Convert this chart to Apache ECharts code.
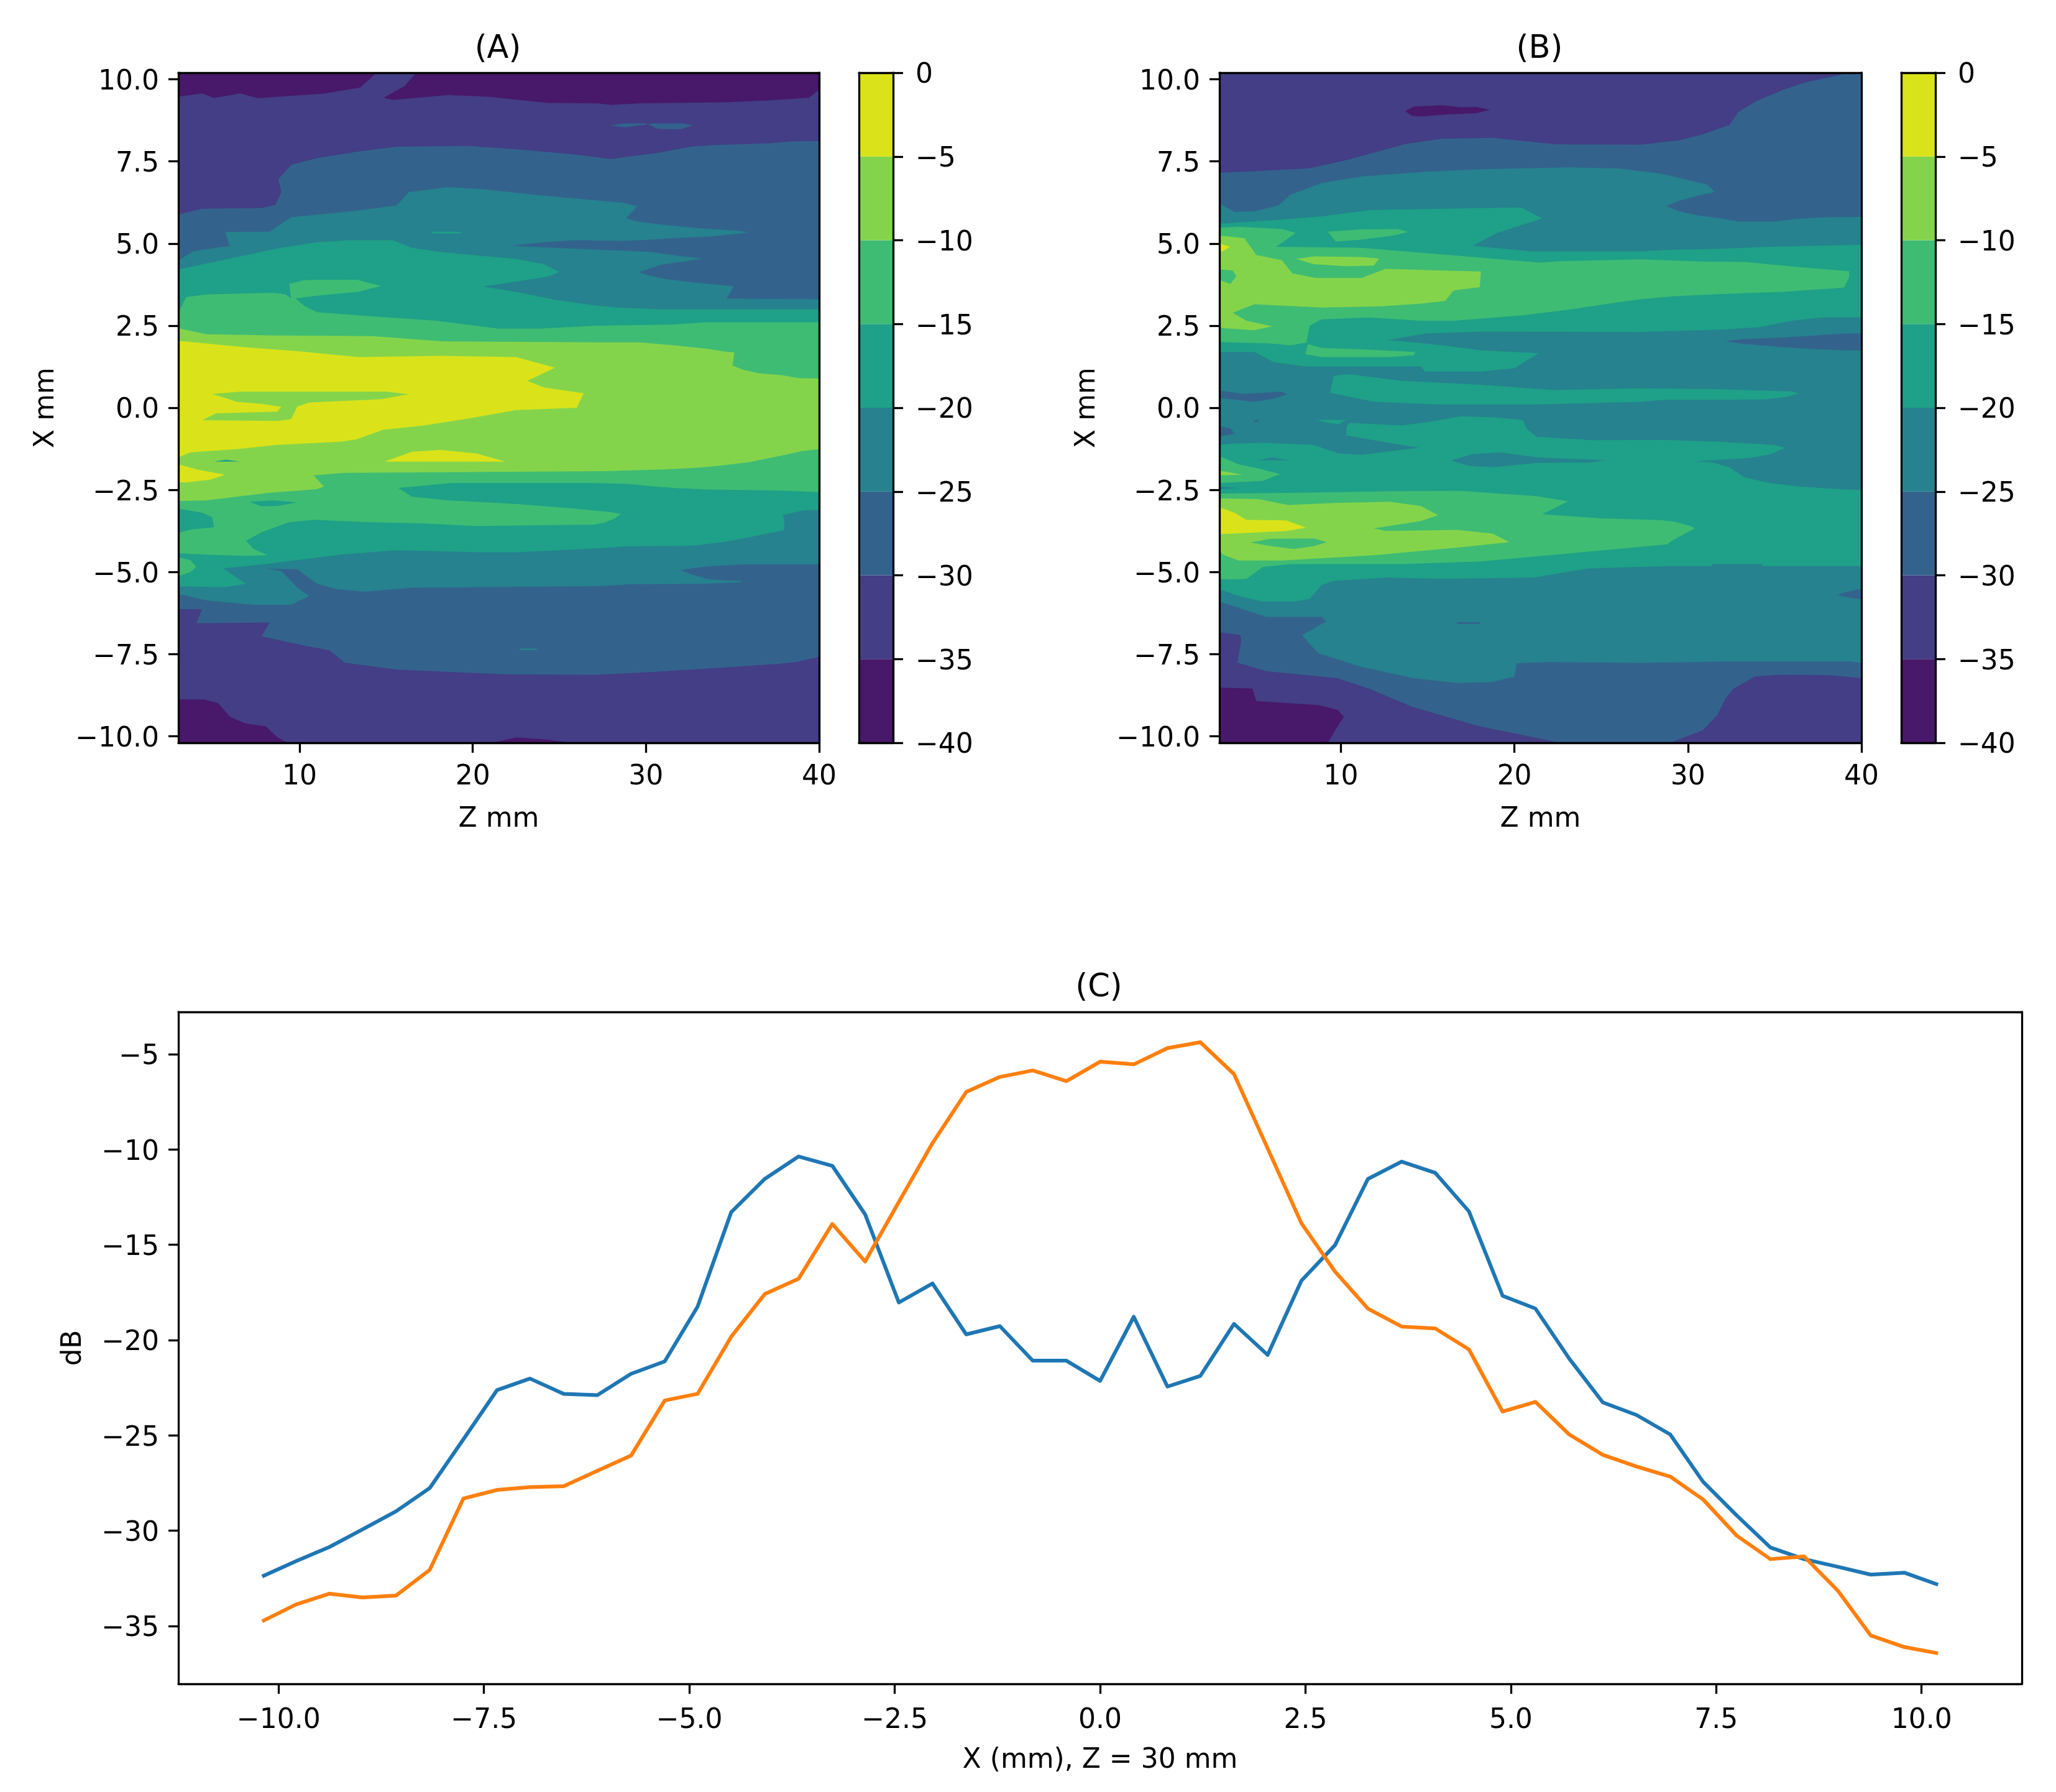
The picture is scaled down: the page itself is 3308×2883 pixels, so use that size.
<!DOCTYPE html>
<html><head><meta charset="utf-8">
<style>html,body{margin:0;padding:0;background:#fff}#c{width:3308px;height:2883px}</style>
<script src="https://cdn.jsdelivr.net/npm/echarts@6/dist/echarts.min.js"></script>
</head><body><div id="c"></div>
<script>
// ---------- levels ----------
const levels = [-40,-35,-30,-25,-20,-15,-10,-5,0];
const levelColors = ['#48186a','#433e85','#33638d','#26828e','#1fa088','#3fbc73','#84d44b','#dae319'];
const zTicks = [10,20,30,40];
const xTicks = [-10,-7.5,-5,-2.5,0,2.5,5,7.5,10];
const dbTicks = [-35,-30,-25,-20,-15,-10,-5];

// ---------- panel (C) line values ----------
const profileX = [-10.2,-9.79,-9.38,-8.98,-8.57,-8.16,-7.75,-7.34,-6.94,-6.53,-6.12,-5.71,-5.3,-4.9,-4.49,-4.08,-3.67,-3.26,-2.86,-2.45,-2.04,-1.63,-1.22,-0.82,-0.41,0,0.41,0.82,1.22,1.63,2.04,2.45,2.86,3.26,3.67,4.08,4.49,4.9,5.3,5.71,6.12,6.53,6.94,7.34,7.75,8.16,8.57,8.98,9.38,9.79,10.2];
const profileBlue = [-32.4,-31.6,-30.85,-29.93,-28.98,-27.76,-25.2,-22.62,-22.02,-22.82,-22.89,-21.77,-21.12,-18.25,-13.29,-11.54,-10.37,-10.86,-13.41,-18.03,-17.03,-19.7,-19.27,-21.08,-21.08,-22.14,-18.78,-22.44,-21.88,-19.15,-20.78,-16.89,-15.02,-11.55,-10.64,-11.23,-13.25,-17.68,-18.35,-20.97,-23.27,-23.93,-24.95,-27.43,-29.2,-30.88,-31.49,-31.89,-32.3,-32.2,-32.83];
const profileOrange = [-34.75,-33.87,-33.3,-33.5,-33.4,-32.05,-28.31,-27.86,-27.71,-27.66,-26.86,-26.06,-23.17,-22.82,-19.82,-17.58,-16.78,-13.91,-15.88,-12.76,-9.67,-6.99,-6.2,-5.86,-6.42,-5.4,-5.54,-4.69,-4.38,-6.05,-9.95,-13.87,-16.41,-18.35,-19.29,-19.39,-20.49,-23.75,-23.24,-24.95,-26.02,-26.63,-27.16,-28.36,-30.26,-31.49,-31.35,-33.14,-35.49,-36.1,-36.43];

// ---------- contour outlines, in (Z mm, X mm) ----------
const fullArea = [[3,-10.2],[40,-10.2],[40,10.2],[3,10.2]];

// Panel A
const A_L1_topLeft = [[3,10.2],[3,9.47],[4.37,9.57],[5.06,9.43],[6.55,9.57],[7.58,9.43],[11.36,9.56],[13.5,9.75],[14.45,10.2]];
const A_L1_topRight = [[16.74,10.2],[16.05,9.79],[14.86,9.44],[15.37,9.37],[18.57,9.52],[20.86,9.47],[24.3,9.28],[27.17,9.27],[28,9.22],[29.6,9.27],[34.7,9.3],[37.1,9.36],[39.4,9.44],[40,9.68],[40,10.2]];
const A_L1_botLeft = [[3,-8.88],[4.49,-8.88],[5.29,-8.99],[5.98,-9.41],[6.89,-9.62],[8.04,-9.7],[8.72,-10.04],[9.3,-10.2],[3,-10.2]];
const A_L1_botMid = [[21.1,-10.2],[22.5,-10.04],[24.3,-10.1],[25.67,-10.2]];
const A_L3_upper = [[3,5.88],[4.37,6.06],[7.8,6.08],[8.6,6.18],[8.95,6.56],[8.77,6.96],[9.53,7.4],[11,7.6],[13.3,7.79],[15.6,7.95],[19.7,7.97],[22.5,7.87],[25.9,7.71],[28,7.57],[29,7.65],[30.6,7.75],[32.6,7.95],[34,8.0],[37.2,8.05],[38.4,8.11],[40,8.12]];
const A_L3_lower = [[3,-6.13],[4.37,-6.13],[4.03,-6.56],[8.27,-6.54],[7.81,-6.96],[10.33,-7.25],[11.7,-7.38],[12.6,-7.76],[15.6,-7.97],[22,-8.12],[27.17,-8.13],[29,-8.08],[30.9,-8.03],[32.6,-7.97],[35,-7.89],[37.7,-7.79],[38.7,-7.74],[40,-7.58]];
const A_L3_isle = [[27.9,8.59],[28.7,8.66],[30,8.66],[30.7,8.49],[32,8.48],[32.7,8.59],[32.2,8.66],[30.4,8.66],[30,8.62],[28.8,8.54]];
const A_L4_upper = [[3,4.49],[3.9,4.77],[5.98,4.93],[5.7,5.35],[8.27,5.36],[9.5,5.8],[13.3,6.0],[15.6,6.16],[16.3,6.56],[18.6,6.72],[20.6,6.65],[23.6,6.48],[27.17,6.31],[28.7,6.24],[29.5,6.13],[28.85,5.77],[29.5,5.67],[31,5.57],[33,5.47],[35.3,5.39],[35.9,5.34],[35.3,5.3],[33.75,5.22],[32.2,5.18],[30,5.11],[28.6,5.08],[25.9,5.1],[24,5.04],[22.2,4.93],[27.17,4.81],[29,4.78],[30.3,4.74],[32.1,4.61],[33.2,4.54],[32.2,4.45],[30.9,4.36],[29.6,4.13],[30.2,4.02],[31.25,3.91],[32.7,3.82],[35.07,3.7],[34.65,3.32],[40,3.3]];
const A_L4_lower = [[3,-5.67],[4.6,-5.86],[7.35,-6.0],[9.5,-6.0],[10.56,-5.73],[9.87,-5.48],[8.95,-4.97],[8.04,-4.89],[9.9,-4.92],[11,-5.36],[12.15,-5.52],[13.76,-5.6],[16.5,-5.48],[27.17,-5.43],[29.3,-5.37],[33.3,-5.36],[35.5,-5.31],[35.5,-5.27],[34.6,-5.26],[33.6,-5.22],[32.7,-5.09],[32,-4.94],[33.5,-4.83],[35.5,-4.77],[40,-4.77]];
const A_L4_speck = [[22.7,-7.33],[23.7,-7.33],[23.7,-7.38],[22.7,-7.38]];
const A_L5_upper = [[3,4.21],[5.5,4.49],[8.7,4.85],[11,5.04],[12.85,5.1],[15.4,5.1],[16.5,4.87],[18.3,4.73],[22.5,4.53],[24.1,4.37],[25,4.13],[24.3,3.99],[20.6,3.69],[22.5,3.53],[24.75,3.29],[27.17,3.11],[28.4,3.05],[30.6,3.0],[40,3.0]];
const A_L5_lower = [[3,-5.44],[5.75,-5.46],[6.9,-5.36],[5.6,-4.89],[8.04,-4.76],[12.4,-4.47],[15.6,-4.34],[20.4,-4.4],[22.5,-4.4],[27.17,-4.28],[28.85,-4.22],[32.7,-4.2],[34.6,-4.08],[36,-3.94],[37.2,-3.81],[37.95,-3.73],[38,-3.47],[37.9,-3.27],[39,-3.13],[40,-3.11]];
const A_L5_speck = [[17.65,5.36],[19.3,5.36],[19.3,5.31],[17.65,5.31]];
const A_L6_upper = [[3,2.9],[3.45,3.37],[4.6,3.45],[8.5,3.5],[9.2,3.45],[9.5,3.33],[9.4,3.77],[10.3,3.89],[13.3,3.9],[14.7,3.71],[13.4,3.53],[11,3.41],[9.75,3.33],[10.3,3.09],[11,2.91],[14.45,2.77],[17.9,2.65],[21.5,2.41],[23.8,2.41],[27.17,2.5],[31.5,2.53],[33.4,2.6],[40,2.6]];
const A_L6_lower = [[3,-4.43],[4.6,-4.47],[6.9,-4.51],[8.15,-4.49],[7.35,-4.3],[6.9,-4.05],[7.8,-3.79],[9.4,-3.48],[10.8,-3.41],[14,-3.48],[17,-3.52],[20.2,-3.6],[27,-3.56],[27.6,-3.5],[28.2,-3.37],[28.55,-3.23],[28,-3.18],[25.9,-3.07],[22.5,-2.93],[18.6,-2.82],[16.5,-2.71],[15.7,-2.44],[18.8,-2.29],[26.8,-2.29],[29,-2.32],[30.5,-2.4],[31.9,-2.45],[33.55,-2.49],[37.9,-2.52],[40,-2.57]];
const A_L6_edge = [[3,-4.55],[3.7,-4.64],[4.03,-4.85],[3.7,-5.0],[3,-5.13]];
const A_L5_edge = [[3,-3.07],[4.4,-3.2],[4.95,-3.33],[5.06,-3.64],[3.7,-3.71],[3,-3.81]];
const A_L5_pool = [[7.1,-2.86],[8.5,-2.82],[9.87,-2.88],[8.7,-2.99],[7.8,-3.0]];
const A_L7_upper = [[3,2.42],[4.6,2.24],[8.7,2.2],[14.2,2.18],[18.3,2.02],[27.17,1.99],[29.6,1.99],[31.6,1.9],[33.5,1.8],[34.7,1.7],[35.1,1.69],[35,1.28],[35.6,1.16],[36.5,1.05],[37.9,0.99],[38.85,0.9],[40,0.89]];
const A_L7_lower = [[3,-2.84],[4.6,-2.82],[8.27,-2.59],[11,-2.48],[11.4,-2.4],[10.8,-2.06],[12.6,-1.98],[27.6,-1.93],[31,-1.88],[32.8,-1.83],[34,-1.78],[35.9,-1.66],[37.7,-1.47],[39,-1.32],[40,-1.26]];
const A_L5_speck2 = [[5.06,-1.64],[5.75,-1.58],[6.55,-1.64]];
const A_L8_main = [[3,2.04],[6.9,1.84],[9.9,1.72],[13.4,1.54],[18.2,1.58],[22.5,1.54],[24.75,1.22],[23.15,0.82],[24.1,0.62],[26.4,0.44],[26,0.0],[22.5,-0.07],[19.7,-0.33],[17.2,-0.54],[14.8,-0.67],[13.3,-0.96],[12.4,-1.03],[8.7,-1.13],[6.4,-1.26],[3.7,-1.36],[3,-1.51]];
const A_L7_inner = [[4.95,0.42],[6.66,0.49],[15,0.49],[16.3,0.41],[14.7,0.26],[10.56,0.16],[9.87,0.04],[9.5,-0.35],[8.7,-0.4],[4.37,-0.38],[5.18,-0.17],[8.7,-0.12],[8.95,0.03],[7.8,0.12],[6.4,0.18]];
const A_L8_lens = [[14.9,-1.64],[16.5,-1.34],[18.1,-1.28],[20.2,-1.39],[21.9,-1.64]];
const A_L8_edge = [[3,-1.72],[4.15,-1.89],[5.7,-2.04],[4.83,-2.19],[3.46,-2.27],[3,-2.27]];

// Panel B
const B_L1_isle = [[13.7,9.03],[14.2,9.17],[15.8,9.21],[16.9,9.15],[17.8,9.16],[18.6,9.07],[17.8,8.97],[16.2,8.93],[14.6,8.87],[14.1,8.89]];
const B_L1_corner = [[3,-8.52],[4.9,-8.55],[5.13,-8.93],[8.68,-9.05],[9.82,-9.2],[10.17,-9.41],[9.7,-9.79],[9.25,-10.2],[3,-10.2]];
const B_L3_upper = [[3,7.16],[4.33,7.18],[8.2,7.29],[10.27,7.53],[12.34,7.83],[13.7,8.03],[15.8,8.19],[18.75,8.22],[22.4,8.02],[27.25,8.01],[29.5,8.14],[30.85,8.32],[32.4,8.61],[32.9,9.0],[33.95,9.34],[35.5,9.68],[36.8,9.91],[38.6,10.11],[39.2,10.2],[40,10.2]];
const B_L3_lower = [[3,-6.83],[4.2,-6.92],[4.26,-7.09],[4.03,-7.76],[5.7,-8.02],[9.8,-8.23],[11.66,-8.56],[14.15,-9.11],[18,-9.7],[22.65,-10.2],[29,-10.2],[30,-9.99],[30.85,-9.82],[31.7,-9.35],[32.15,-8.87],[32.6,-8.57],[33.85,-8.18],[35.4,-8.13],[38.15,-8.14],[40,-8.23]];
const B_L4_upper = [[3,6.22],[3.87,5.96],[5,5.98],[6.4,6.16],[7.08,6.48],[8.9,6.84],[11.2,7.04],[14.86,7.18],[18.07,7.26],[23.3,7.32],[26.1,7.28],[27.25,7.2],[28.3,7.14],[29.25,7.03],[30.4,6.88],[31.1,6.8],[31.55,6.57],[30.7,6.47],[29.5,6.3],[28.75,6.14],[29.5,5.98],[30.4,5.87],[31.9,5.76],[32.95,5.67],[35,5.67],[36.05,5.74],[37.9,5.8],[40,5.81]];
const B_L4_lower = [[3,-5.9],[5.7,-6.37],[8.9,-6.37],[9.14,-6.51],[7.76,-6.92],[8.68,-7.47],[11.2,-7.89],[14.17,-8.23],[16.7,-8.38],[18.75,-8.35],[20,-8.18],[20.13,-7.78],[21.96,-7.74],[27.25,-7.77],[32.34,-7.72],[39.3,-7.72],[40,-7.77]];
const B_L3_sliverLow = [[16.7,-6.53],[18,-6.53],[18,-6.58],[16.7,-6.58]];
const B_L3_edgeRight = [[38.6,-5.7],[39,-5.63],[39.75,-5.53],[40,-5.53],[40,-5.83],[39.2,-5.77]];
const B_L5_upper = [[3,5.6],[6.4,5.72],[8.9,5.83],[11.66,6.02],[16,6.06],[20.4,6.1],[21.6,5.76],[19,5.32],[17.6,4.93],[21,4.76],[27.25,4.76],[28.6,4.8],[31.9,4.84],[34.7,4.9],[38.8,4.95],[40,4.96]];
const B_L5_lower = [[3,-5.52],[4.1,-5.73],[5.47,-5.9],[7.3,-5.9],[8.2,-5.82],[8.9,-5.4],[9.6,-5.27],[12.6,-5.17],[15.8,-5.21],[21.1,-5.17],[24.25,-4.89],[28.8,-4.82],[31.4,-4.82],[31.4,-4.76],[34.3,-4.76],[34.3,-4.82],[40,-4.82]];
const B_L4_band = [[12.7,2.06],[14.9,2.26],[18.07,2.32],[27.25,2.31],[29.4,2.34],[32,2.38],[34.1,2.45],[36,2.65],[37.7,2.75],[40,2.75],[40,-2.51],[37.9,-2.45],[36.4,-2.4],[34.7,-2.29],[33.25,-2.12],[32.4,-1.81],[31.4,-1.66],[30.4,-1.63],[32,-1.58],[33.6,-1.53],[34.8,-1.41],[35.6,-1.22],[35,-1.14],[34.1,-1.1],[32,-1.04],[28.8,-0.98],[24.5,-0.99],[21.27,-0.88],[20.7,-0.63],[20.47,-0.37],[18.75,-0.29],[16.9,-0.26],[15.1,-0.43],[13.5,-0.54],[10.5,-0.46],[10.33,-0.58],[10.3,-0.84],[11.9,-0.99],[14.5,-1.22],[11.2,-1.43],[9.8,-1.38],[8.45,-1.13],[5.47,-1.07],[3.87,-1.09],[3,-1.13],[3,1.7],[5,1.7],[6.16,1.38],[7.99,1.26],[14.6,1.26],[14.86,1.1],[18.07,1.1],[20,1.2],[21.4,1.66],[18.07,1.75],[15.8,1.9],[14.4,1.98]];
const B_L3_sliverRight = [[32.15,2.03],[33.2,2.09],[35.5,2.14],[37.3,2.2],[39.1,2.26],[40,2.26],[40,1.74],[38.9,1.75],[36.95,1.8],[35.4,1.85],[34.2,1.9],[33.1,1.95]];
const B_L3_edgeA = [[3,0.53],[4.33,0.42],[6.6,0.49],[6.9,0.41],[6.16,0.28],[5,0.18],[3,0.3]];
const B_L3_edgeB = [[3,-0.56],[3.64,-0.63],[3.87,-0.79],[3,-0.88]];
const B_L3_dot = [[5,-0.37],[5.25,-0.37],[5.25,-0.43],[5,-0.43]];
const B_L5_strip = [[9.6,0.98],[10.5,1.02],[13.5,0.82],[18.07,0.7],[22.2,0.54],[27.25,0.59],[31.55,0.57],[34.55,0.52],[36,0.49],[36.4,0.43],[35.6,0.32],[34.4,0.25],[28.6,0.24],[27.25,0.18],[21.27,0.1],[15.8,0.1],[11.9,0.18],[9.37,0.46]];
const B_L5_speck = [[8.56,-0.37],[10.3,-0.37],[9.9,-0.5],[9.25,-0.46]];
const B_L4_lakeA = [[16.35,-1.61],[17.6,-1.41],[19.2,-1.36],[21.27,-1.51],[25.2,-1.6],[24.5,-1.66],[21.27,-1.68],[18.75,-1.81],[17.4,-1.77]];
const B_L4_lakeB = [[5.25,-1.6],[6.05,-1.51],[7,-1.6]];
const B_L4_lakeC = [[3,-2.41],[4.1,-2.44],[3,-2.48]];
const B_L6_upper = [[3,5.48],[4.1,5.51],[6.6,5.44],[7.4,5.32],[6.27,4.9],[11.2,4.87],[16.24,4.65],[21.5,4.42],[22.65,4.46],[27.25,4.52],[30.7,4.45],[33.3,4.44],[34.8,4.36],[36,4.3],[37.8,4.22],[39.3,4.16],[39.28,3.96],[39,3.66]];
const B_L6_under = [[3,2.0],[5.9,1.96],[7.08,1.9],[8,1.98],[8.2,2.5],[8.9,2.69],[11.66,2.75],[14.6,2.65],[16.5,2.65],[20.4,2.81],[22.9,2.97],[26,3.21],[27.25,3.3],[29.1,3.39],[31,3.44],[33.3,3.49],[35.5,3.53],[37.1,3.59],[38.25,3.63],[39,3.66]];
const B_L6_isleTop = [[9.25,5.36],[11.2,5.43],[13.26,5.44],[13.9,5.35],[13,5.24],[11.2,5.12],[9.7,5.06]];
const B_L6_isleMid = [[8.1,1.94],[8.9,1.82],[11.2,1.78],[14.3,1.7],[14.2,1.6],[12.8,1.54],[8.9,1.54],[7.95,1.63]];
const B_L6_edge = [[3,-1.47],[4.1,-1.72],[5.25,-1.85],[6.5,-2.02],[5.47,-2.23],[3,-2.29]];
const B_L6_lowTop = [[3,-2.61],[7.76,-2.59],[13,-2.54],[16.9,-2.53],[21.3,-2.69],[23.1,-2.85],[21.6,-3.24],[25,-3.37],[28.45,-3.42],[29.2,-3.47],[30.1,-3.59],[30.4,-3.67]];
const B_L6_lowBottom = [[3,-5.21],[3.64,-5.23],[4.56,-5.21],[5.5,-4.85],[7.08,-4.76],[13.5,-4.76],[18.07,-4.68],[23.3,-4.43],[28.8,-4.16],[29,-4.08],[29.45,-3.94],[30.4,-3.67]];
const B_L7_main = [[3,5.24],[4.44,5.16],[5.13,4.65],[6.6,4.49],[7.2,4.09],[8.56,3.95],[11.2,3.95],[12.57,4.23],[15.55,4.18],[18.07,4.15],[18,3.67],[16.5,3.57],[16,3.25],[14.6,3.17],[12.34,3.09],[8.9,3.05],[5,3.15],[3.76,2.89],[4.56,2.65],[6.05,2.48],[5,2.36],[3,2.43]];
const B_L6_lake = [[3,4.21],[3.76,4.18],[3.98,4.01],[3.64,3.77],[3,3.89]];
const B_L7_isle = [[7.42,4.53],[8.45,4.61],[11.2,4.59],[12.2,4.54],[11.9,4.33],[10.3,4.31],[8.45,4.37]];
const B_L8_tip = [[3,5.0],[3.6,4.9],[3.2,4.77],[3,4.75]];
const B_L7_edge = [[3,-1.91],[4.33,-2.04],[3,-2.06]];
const B_L7_low = [[3,-2.76],[5.25,-2.78],[6.96,-2.96],[9.6,-2.9],[12.8,-2.86],[14.6,-2.99],[15.6,-3.27],[14.6,-3.45],[11.9,-3.67],[12.6,-3.75],[16.7,-3.72],[18.75,-3.83],[19.7,-4.09],[16.7,-4.26],[11.9,-4.49],[6.6,-4.65],[4.1,-4.65],[3.2,-4.47],[3,-4.34]];
const B_L8_low = [[3,-3.03],[3.87,-3.2],[4.53,-3.41],[6.85,-3.43],[8,-3.65],[6.85,-3.75],[3,-3.85]];
const B_L6_isleLow = [[4.8,-4.1],[5.93,-3.99],[8.45,-3.98],[9.2,-4.09],[8.45,-4.21],[7.3,-4.3],[5.93,-4.21]];

// ---------- build ----------
const ring = (upper, lower) => upper.concat(lower.slice().reverse());
const panelA = [
  [1, fullArea], [0, A_L1_topLeft], [0, A_L1_topRight], [0, A_L1_botLeft], [0, A_L1_botMid],
  [2, ring(A_L3_upper, A_L3_lower)], [2, A_L3_isle],
  [3, ring(A_L4_upper, A_L4_lower)], [3, A_L4_speck],
  [4, ring(A_L5_upper, A_L5_lower)], [4, A_L5_speck],
  [5, ring(A_L6_upper, A_L6_lower)], [5, A_L6_edge], [4, A_L5_edge], [4, A_L5_pool],
  [6, ring(A_L7_upper, A_L7_lower)], [4, A_L5_speck2],
  [7, A_L8_main], [6, A_L7_inner], [7, A_L8_lens], [7, A_L8_edge]
];
const panelB = [
  [1, fullArea], [0, B_L1_isle], [0, B_L1_corner],
  [2, ring(B_L3_upper, B_L3_lower)],
  [3, ring(B_L4_upper, B_L4_lower)], [2, B_L3_sliverLow], [2, B_L3_edgeRight],
  [4, ring(B_L5_upper, B_L5_lower)],
  [3, B_L4_band], [2, B_L3_sliverRight], [2, B_L3_edgeA], [2, B_L3_edgeB], [2, B_L3_dot],
  [4, B_L5_strip], [4, B_L5_speck], [3, B_L4_lakeA], [3, B_L4_lakeB], [3, B_L4_lakeC],
  [5, ring(B_L6_upper, B_L6_under)], [5, B_L6_isleTop], [5, B_L6_isleMid], [5, B_L6_edge],
  [5, ring(B_L6_lowTop, B_L6_lowBottom)],
  [6, B_L7_main], [5, B_L6_lake], [6, B_L7_isle], [7, B_L8_tip], [6, B_L7_edge],
  [6, B_L7_low], [7, B_L8_low], [5, B_L6_isleLow]
];

const INK = '#000', LW = 3.3, TICK = 16, FS = 44;
const minus = s => String(s).replace('-', '\u2212');
const font = {color: INK, fontFamily: '"DejaVu Sans"', fontSize: FS};
const yLabel = {...font, verticalAlign:'top', lineHeight:10};
const line = {show: true, onZero: false, lineStyle: {color: INK, width: LW}};
const tick = vals => ({show: true, length: TICK, lineStyle: {color: INK, width: LW}, customValues: vals});

const frameX = (g, min, max) => ({type:'value', gridIndex:g, position:'top', min, max, z:10, axisLine:line, axisTick:{show:false}, axisLabel:{show:false}, splitLine:{show:false}});
const frameY = (g, min, max, pos) => ({type:'value', gridIndex:g, position:pos, min, max, z:10, axisLine:line, axisTick:{show:false}, axisLabel:{show:false}, splitLine:{show:false}});

const grids = [
  {left:287,  top:117,  width:1031, height:1078},
  {left:1382, top:117,  width:55,   height:1078},
  {left:1962, top:117,  width:1033, height:1078},
  {left:3059, top:117,  width:55,   height:1078},
  {left:287,  top:1628, width:2966, height:1081}
];
const xAxes = [], yAxes = [], series = [];

function addContour(g, polys) {
  const xi = xAxes.length, yi = yAxes.length;
  xAxes.push({type:'value', gridIndex:g, position:'bottom', min:3, max:40, z:10,
    name:'Z mm', nameLocation:'middle', nameGap:102, nameTextStyle:font,
    axisLine:line, axisTick:tick(zTicks), axisLabel:{...font, margin:34, customValues:zTicks}, splitLine:{show:false}});
  xAxes.push(frameX(g, 3, 40));
  yAxes.push({type:'value', gridIndex:g, position:'left', min:-10.2, max:10.2, z:10,
    name:'X mm', nameLocation:'middle', nameGap:190, nameTextStyle:font,
    axisLine:line, axisTick:tick(xTicks),
    axisLabel:{...yLabel, margin:31, customValues:xTicks, formatter:v => minus(v.toFixed(1))}, splitLine:{show:false}});
  yAxes.push(frameY(g, -10.2, 10.2, 'right'));
  series.push({type:'custom', xAxisIndex:xi, yAxisIndex:yi, silent:true, animation:false, z:2, clip:true,
    data: polys.map((p,i) => [i, 0]),
    encode:{x:1,y:1},
    renderItem:(params, api) => {
      const [lv, pts] = polys[params.dataIndex];
      return {type:'polygon', shape:{points: pts.map(p => api.coord(p))}, style:{fill: levelColors[lv]}};
    }});
}
function addColorbar(g) {
  const xi = xAxes.length, yi = yAxes.length;
  xAxes.push({type:'value', gridIndex:g, position:'bottom', min:0, max:1, z:10, axisLine:line, axisTick:{show:false}, axisLabel:{show:false}, splitLine:{show:false}});
  xAxes.push(frameX(g, 0, 1));
  yAxes.push({type:'value', gridIndex:g, position:'right', min:-40, max:0, interval:5, z:10,
    axisLine:line, axisTick:{show:true, length:TICK, lineStyle:{color:INK, width:LW}},
    axisLabel:{...yLabel, margin:36, formatter:v => minus(v)}, splitLine:{show:false}});
  yAxes.push(frameY(g, -40, 0, 'left'));
  series.push({type:'custom', xAxisIndex:xi, yAxisIndex:yi, silent:true, animation:false, z:2,
    data: levelColors.map((c,i) => [0.5, levels[i]]),
    renderItem:(params, api) => {
      const i = params.dataIndex;
      const a = api.coord([0, levels[i]]), b = api.coord([1, levels[i+1]]);
      return {type:'rect', shape:{x:a[0], y:b[1], width:b[0]-a[0], height:a[1]-b[1]}, style:{fill: levelColors[i]}};
    }});
}
addContour(0, panelA);
addColorbar(1);
addContour(2, panelB);
addColorbar(3);

const cx = xAxes.length, cy = yAxes.length;
xAxes.push({type:'value', gridIndex:4, position:'bottom', min:-11.22, max:11.22, z:10,
  name:'X (mm), Z = 30 mm', nameLocation:'middle', nameGap:102, nameTextStyle:font,
  axisLine:line, axisTick:tick(xTicks),
  axisLabel:{...font, margin:38, customValues:xTicks, formatter:v => minus(v.toFixed(1))}, splitLine:{show:false}});
xAxes.push(frameX(4, -11.22, 11.22));
yAxes.push({type:'value', gridIndex:4, position:'left', min:-38.03, max:-2.79, z:10,
  name:'dB', nameLocation:'middle', nameGap:146, nameTextStyle:font,
  axisLine:line, axisTick:tick(dbTicks),
  axisLabel:{...yLabel, margin:31, customValues:dbTicks, formatter:v => minus(v)}, splitLine:{show:false}});
yAxes.push(frameY(4, -38.03, -2.79, 'right'));
const pairs = ys => profileX.map((x,i) => [x, ys[i]]);
series.push({type:'line', xAxisIndex:cx, yAxisIndex:cy, data:pairs(profileBlue), showSymbol:false, symbol:'none', animation:false, silent:true,
  lineStyle:{color:'#1f77b4', width:6, join:'round'}, z:3});
series.push({type:'line', xAxisIndex:cx, yAxisIndex:cy, data:pairs(profileOrange), showSymbol:false, symbol:'none', animation:false, silent:true,
  lineStyle:{color:'#ff7f0e', width:6, join:'round'}, z:4});

const ttl = (text, left, top) => ({text, left, top, textAlign:'center', textStyle:{color:INK, fontFamily:'"DejaVu Sans"', fontSize:51, fontWeight:'normal'}, padding:0});
const chart = echarts.init(document.getElementById('c'), null, {renderer:'canvas', width:3308, height:2883});
chart.setOption({
  backgroundColor:'#fff', animation:false, tooltip:{show:false}, legend:{show:false},
  title:[ttl('(A)',801,54), ttl('(B)',2477,54), ttl('(C)',1768,1564)],
  grid:grids, xAxis:xAxes, yAxis:yAxes, series
});
</script></body></html>
